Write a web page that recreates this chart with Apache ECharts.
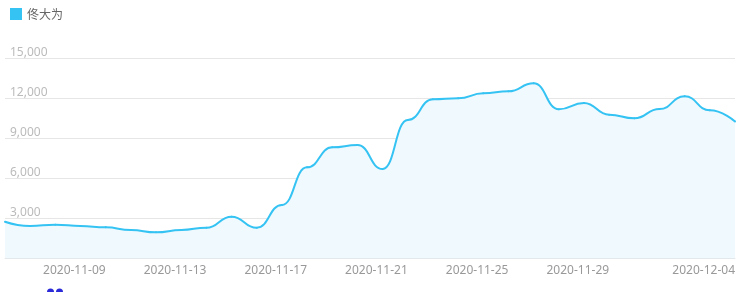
<!DOCTYPE html>
<html><head><meta charset="utf-8">
<script src="https://cdn.jsdelivr.net/npm/echarts@6/dist/echarts.min.js"></script>
<style>html,body{margin:0;padding:0;background:#fff}#c{width:746px;height:292px}</style>
</head><body><div id="c"></div>
<script>
var seriesName = '佟大为';
var dates = ['2020-11-05','2020-11-06','2020-11-07','2020-11-08','2020-11-09','2020-11-10','2020-11-11','2020-11-12','2020-11-13','2020-11-14','2020-11-15','2020-11-16','2020-11-17','2020-11-18','2020-11-19','2020-11-20','2020-11-21','2020-11-22','2020-11-23','2020-11-24','2020-11-25','2020-11-26','2020-11-27','2020-11-28','2020-11-29','2020-11-30','2020-12-01','2020-12-02','2020-12-03','2020-12-04'];
var values = [2720,2400,2500,2400,2300,2100,1925,2100,2275,3100,2275,3975,6800,8300,8475,6670,10350,11900,11975,12350,12500,13100,11160,11625,10750,10475,11175,12125,11075,10240];
var labelIdx = [4,8,12,16,20,24,29];
var yTicks = {min:0, max:15000, interval:3000};

var chart = echarts.init(document.getElementById('c'), null, {renderer:'canvas'});
var cjk = '"Microsoft YaHei","Noto Sans CJK SC",sans-serif';
var lat = '"Noto Sans","Open Sans",sans-serif';
chart.setOption({
  animation:false,
  textStyle:{fontFamily:cjk},
  legend:{left:5, top:3, itemWidth:12, itemHeight:12, itemGap:10, icon:'rect',
    textStyle:{color:'#666', fontSize:12, fontFamily:cjk}, data:[seriesName]},
  grid:{left:5, right:11, top:58, bottom:34, containLabel:false},
  xAxis:{type:'category', data:dates, boundaryGap:false,
    axisLine:{lineStyle:{color:'#e3e8ec', width:1}},
    axisTick:{show:true, interval:function(i){return labelIdx.indexOf(i)>=0;}, length:2, inside:true, lineStyle:{color:'#fff', width:1}},
    axisLabel:{interval:function(i){return labelIdx.indexOf(i)>=0;}, align:'right', color:'#999', fontSize:12, margin:7, fontFamily:lat},
    splitLine:{show:false}},
  yAxis:{type:'value', min:yTicks.min, max:yTicks.max, interval:yTicks.interval,
    axisLine:{show:false}, axisTick:{show:false},
    axisLabel:{inside:true, showMinLabel:false, margin:0, padding:[0,0,-1,5], align:'left', verticalAlign:'bottom', color:'#bbb', fontSize:12, fontFamily:lat,
      formatter:function(v){return v.toLocaleString('en-US');}},
    splitLine:{lineStyle:{color:'#e6e6e6', width:1}}},
  series:[{name:seriesName, type:'line', data:values, smooth:0.5, smoothMonotone:'x',
    symbol:'circle', symbolSize:2, showSymbol:true,
    itemStyle:{color:'#35c3f3'},
    lineStyle:{color:'#35c3f3', width:2},
    areaStyle:{color:'#f0f9fd', opacity:1}}],
  graphic:[
    {type:'text', right:20, top:236, style:{text:'@百度指数', fill:'#c8c8c8', fontSize:12, fontFamily:cjk}},
    {type:'circle', shape:{cx:50.5, cy:292, r:3.5}, style:{fill:'#2a2ad8'}},
    {type:'circle', shape:{cx:59.5, cy:292, r:3.5}, style:{fill:'#2a2ad8'}}
  ]
});
</script></body></html>
